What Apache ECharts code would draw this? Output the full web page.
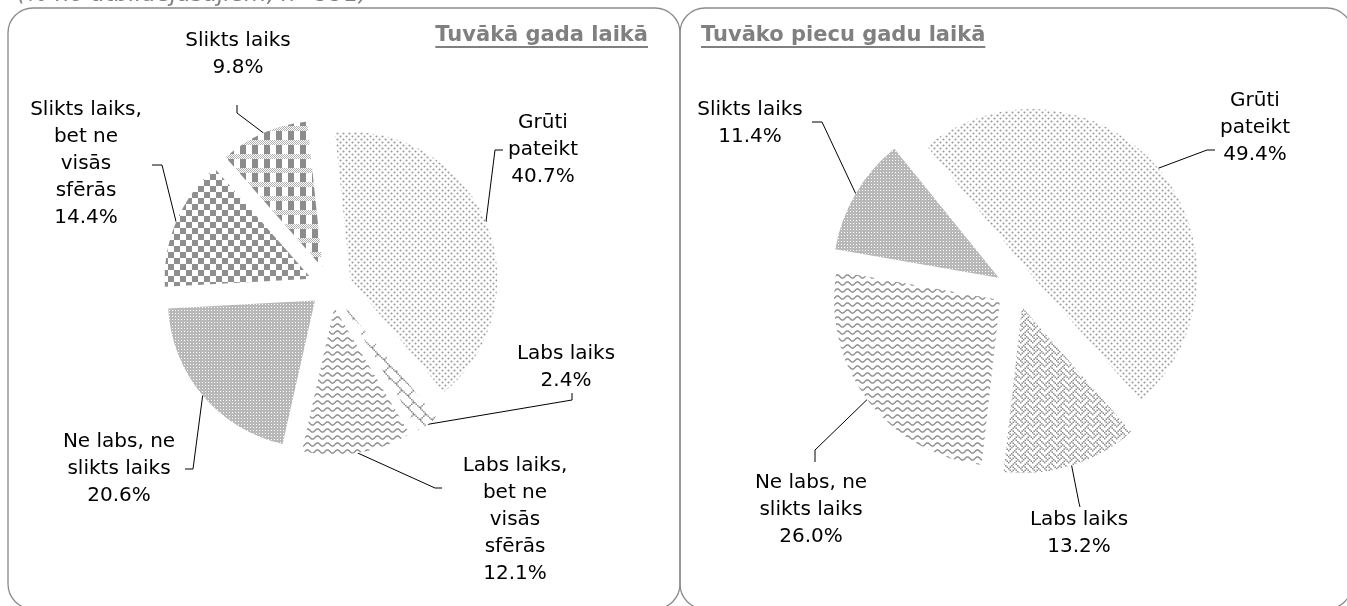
<!DOCTYPE html>
<html>
<head>
<meta charset="utf-8">
<script src="https://cdn.jsdelivr.net/npm/echarts@6/dist/echarts.min.js"></script>
<style>
  html, body { margin: 0; padding: 0; background: #fff; }
  #chart { width: 1347px; height: 606px; }
</style>
</head>
<body>
<div id="chart"></div>
<script>
// Outlook answers: within the next year / within the next five years (% of respondents)
const yearCategories = [
  'Grūti\npateikt',
  'Labs laiks',
  'Labs laiks,\nbet ne\nvisās\nsfērās',
  'Ne labs, ne\nslikts laiks',
  'Slikts laiks,\nbet ne\nvisās\nsfērās',
  'Slikts laiks'
];
const yearValues = [40.7, 2.4, 12.1, 20.6, 14.4, 9.8];

const fiveYearCategories = [
  'Grūti\npateikt',
  'Labs laiks',
  'Ne labs, ne\nslikts laiks',
  'Slikts laiks'
];
const fiveYearValues = [49.4, 13.2, 26.0, 11.4];

const subtitleText = '(% no atbildējušajiem, n=991)';
const yearTitle = 'Tuvākā gada laikā';
const fiveYearTitle = 'Tuvāko piecu gadu laikā';

const FONT = "'DejaVu Sans', Verdana, sans-serif";

// ---- pattern fills -------------------------------------------------------
function makeTile(w, h, paint) {
  const c = document.createElement('canvas');
  c.width = w; c.height = h;
  const g = c.getContext('2d');
  g.fillStyle = '#fff';
  g.fillRect(0, 0, w, h);
  paint(g, w, h);
  return { image: c, repeat: 'repeat' };
}
function bitmapTile(rows, scale, color) {
  const n = rows.length;
  return makeTile(n * scale, n * scale, g => {
    g.fillStyle = color;
    rows.forEach((bits, y) => {
      for (let x = 0; x < n; x++) {
        if ((bits >> (n - 1 - x)) & 1) g.fillRect(x * scale, y * scale, scale, scale);
      }
    });
  });
}

const fillDots = makeTile(6, 6, g => {
  g.fillStyle = '#9a9a9a';
  [[1.5, 1.5], [4.5, 4.5]].forEach(([x, y]) => {
    g.beginPath(); g.arc(x, y, 1.05, 0, Math.PI * 2); g.fill();
  });
});
const fillChecker = makeTile(12, 12, g => {
  g.fillStyle = '#8f8f8f';
  g.fillRect(0, 0, 6, 6);
  g.fillRect(6, 6, 6, 6);
});
const fillPlaid = makeTile(12, 14, g => {
  g.fillStyle = '#8c8c8c';
  g.fillRect(0, 5, 6, 9);
  g.fillStyle = '#b0b0b0';
  for (let x = 0; x < 12; x++) for (let y = 0; y < 5; y++) if ((x + y) % 2 === 0) g.fillRect(x, y, 1, 1);
});
const fillFine = makeTile(3, 3, g => {
  g.fillStyle = '#b8b8b8';
  g.fillRect(0, 0, 3, 3);
  g.fillStyle = '#ffffff';
  g.fillRect(1, 1, 1, 1);
});
const fillWaves = makeTile(10, 7, g => {
  g.strokeStyle = '#8e8e8e';
  g.lineWidth = 1.4;
  g.beginPath();
  for (let x = -1; x <= 11; x += 0.5) {
    const y = 3.5 + 1.6 * Math.sin(x / 10 * 2 * Math.PI);
    if (x === -1) g.moveTo(x, y); else g.lineTo(x, y);
  }
  g.stroke();
});
const fillWeave = bitmapTile([0x88, 0x54, 0x22, 0x45, 0x88, 0x14, 0x22, 0x51], 1.5, '#8c8c8c');
const fillBrick = bitmapTile([0x80, 0x40, 0x20, 0x10, 0x18, 0x24, 0x42, 0x81], 1.5, '#8c8c8c');

const yearFills = [fillDots, fillBrick, fillWaves, fillFine, fillChecker, fillPlaid];
const fiveYearFills = [fillDots, fillWeave, fillWaves, fillFine];

// ---- pie geometry and label placement ------------------------------------
const yearGeo = { cx: 331, cy: 287, r: 147, offset: 21, startAngle: 96 };
const fiveYearGeo = { cx: 1016, cy: 288, r: 166, offset: 20, startAngle: 129 };

const yearSpots = [
  { x: 543, y: 150, line: [[495, 150], [503, 150]] },
  { x: 566, y: 367, line: [[572, 400], [572, 393]] },
  { x: 515, y: 520, line: [[435, 488], [442, 488]] },
  { x: 119, y: 469, line: [[193, 469], [185, 469]] },
  { x: 86, y: 164, line: [[162, 165], [152, 165]] },
  { x: 238, y: 54, line: [[237, 113], [237, 105]] }
];
const fiveYearSpots = [
  { x: 1255, y: 128, line: [[1207, 150], [1215, 150]] },
  { x: 1079, y: 533, line: [[1079, 503], [1080, 507]] },
  { x: 811, y: 510, line: [[815, 450], [815, 462]] },
  { x: 750, y: 123, line: [[822, 122], [812, 122]] }
];

// Each slice is its own pie series so that it can be pulled out along its bisector.
function explodedPie(names, values, fills, geo, spots) {
  const total = values.reduce((a, b) => a + b, 0);
  let acc = 0;
  return values.map((v, i) => {
    const start = geo.startAngle - 360 * acc / total;
    const sweep = 360 * v / total;
    acc += v;
    const mid = (start - sweep / 2) * Math.PI / 180;
    const center = [geo.cx + geo.offset * Math.cos(mid), geo.cy - geo.offset * Math.sin(mid)];
    const anchor = [center[0] + geo.r * Math.cos(mid), center[1] - geo.r * Math.sin(mid)];
    const spot = spots[i];
    return {
      type: 'pie',
      center: center,
      radius: geo.r,
      startAngle: start,
      clockwise: true,
      animation: false,
      silent: true,
      avoidLabelOverlap: false,
      emphasis: { disabled: true },
      itemStyle: { borderWidth: 0 },
      label: {
        show: true,
        formatter: p => p.name + '\n' + p.value.toFixed(1) + '%',
        fontFamily: FONT,
        fontSize: 20,
        lineHeight: 27,
        color: '#000'
      },
      labelLine: { show: true, length: 5, length2: 5, lineStyle: { color: '#000', width: 1 } },
      labelLayout: p => p.dataIndex === 0 ? {
        x: spot.x, y: spot.y, align: 'center', verticalAlign: 'middle',
        labelLinePoints: [anchor].concat(spot.line)
      } : {},
      data: [
        { name: names[i], value: v, itemStyle: { color: fills[i], borderWidth: 0 } },
        {
          name: '', value: total - v,
          itemStyle: { color: 'rgba(0,0,0,0)', borderWidth: 0 },
          label: { show: false }, labelLine: { show: false }
        }
      ]
    };
  });
}

// ---- frame and titles ----------------------------------------------------
const measureCtx = document.createElement('canvas').getContext('2d');
const titleFont = 'bold 21px ' + FONT;
measureCtx.font = titleFont;
const yearTitleW = measureCtx.measureText(yearTitle).width;
const fiveYearTitleW = measureCtx.measureText(fiveYearTitle).width;

const frameStyle = { fill: 'none', stroke: '#8a8a8a', lineWidth: 1.3 };
const graphic = [
  { type: 'rect', silent: true, z: -10, shape: { x: 8, y: 8, width: 672, height: 601, r: 25 }, style: frameStyle },
  { type: 'rect', silent: true, z: -10, shape: { x: 680, y: 8, width: 672, height: 601, r: 25 }, style: frameStyle },
  {
    type: 'text', silent: true,
    style: { text: subtitleText, x: 17, y: -5, align: 'left', verticalAlign: 'middle',
      font: 'italic 23px ' + FONT, fill: '#808080' }
  },
  {
    type: 'text', silent: true,
    style: { text: yearTitle, x: 648, y: 36, align: 'right', verticalAlign: 'middle', font: titleFont, fill: '#808080' }
  },
  {
    type: 'line', silent: true,
    shape: { x1: 648 - yearTitleW, y1: 47, x2: 648, y2: 47 },
    style: { stroke: '#808080', lineWidth: 2 }
  },
  {
    type: 'text', silent: true,
    style: { text: fiveYearTitle, x: 701, y: 36, align: 'left', verticalAlign: 'middle', font: titleFont, fill: '#808080' }
  },
  {
    type: 'line', silent: true,
    shape: { x1: 701, y1: 47, x2: 701 + fiveYearTitleW, y2: 47 },
    style: { stroke: '#808080', lineWidth: 2 }
  }
];

const chart = echarts.init(document.getElementById('chart'), null, { renderer: 'canvas' });
chart.setOption({
  backgroundColor: '#fff',
  animation: false,
  graphic: graphic,
  series: explodedPie(yearCategories, yearValues, yearFills, yearGeo, yearSpots)
    .concat(explodedPie(fiveYearCategories, fiveYearValues, fiveYearFills, fiveYearGeo, fiveYearSpots))
});
</script>
</body>
</html>
